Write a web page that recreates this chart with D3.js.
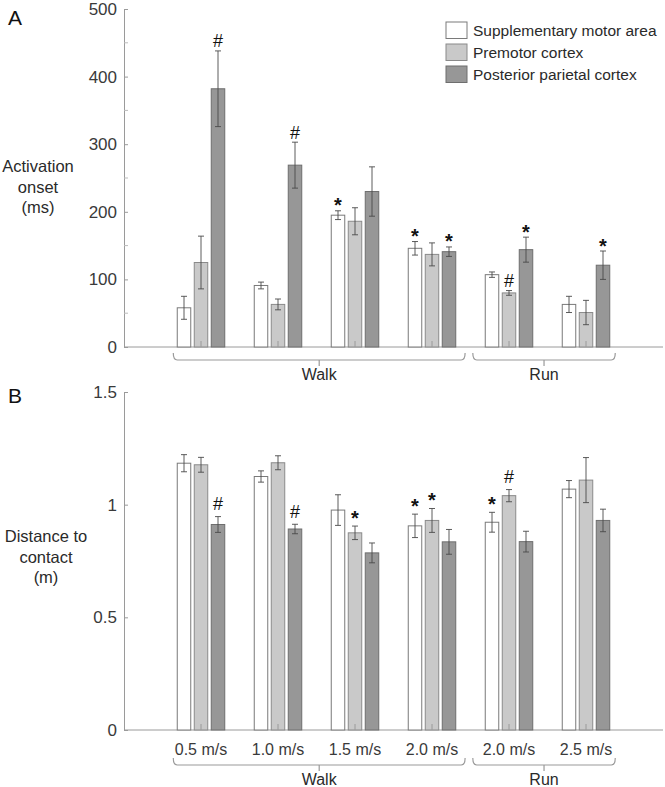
<!DOCTYPE html>
<html>
<head>
<meta charset="utf-8">
<script src="https://cdn.jsdelivr.net/npm/d3@7"></script>
<style>
  body { margin: 0; background: #fff; }
  svg text { font-family: "Liberation Sans", Arial, sans-serif; }
</style>
</head>
<body>
<div class="grafico"></div>
<script>
/* Datos */
const speeds = ['0.5 m/s', '1.0 m/s', '1.5 m/s', '2.0 m/s', '2.0 m/s', '2.5 m/s'];
const series = ['Supplementary motor area', 'Premotor cortex', 'Posterior parietal cortex'];
const gaits = ['Walk', 'Run'];

/* Panel A: activation onset (ms) */
const onsetSMA = [58, 91, 195, 146, 107, 63];
const onsetSMAerr = [17, 5, 6.5, 10, 4, 12];
const onsetPM = [125, 63, 186, 137, 80, 51];
const onsetPMerr = [39, 8, 20, 17, 3.5, 18];
const onsetPPC = [382, 269, 230, 141, 144, 121];
const onsetPPCerr = [56, 34, 36.5, 7, 18.5, 21];
const onsetMarks = [
  ['', '', '*', '*', '', ''],
  ['', '', '', '', '#', ''],
  ['#', '#', '', '*', '*', '*']
];

/* Panel B: distance to contact (m) */
const distSMA = [1.184, 1.125, 0.976, 0.906, 0.922, 1.069];
const distSMAerr = [0.038, 0.025, 0.068, 0.052, 0.044, 0.038];
const distPM = [1.177, 1.186, 0.875, 0.930, 1.040, 1.109];
const distPMerr = [0.033, 0.031, 0.030, 0.053, 0.027, 0.100];
const distPPC = [0.912, 0.892, 0.786, 0.835, 0.836, 0.930];
const distPPCerr = [0.035, 0.021, 0.044, 0.055, 0.046, 0.050];
const distMarks = [
  ['', '', '', '*', '*', ''],
  ['', '', '*', '*', '#', ''],
  ['#', '#', '', '', '', '']
];

const yTicksA = [0, 100, 200, 300, 400, 500];
const yMinorA = [50, 150, 250, 350, 450];
const yTicksB = [0, 0.5, 1, 1.5];

/* Tamaño y estilos */
const W = 665, H = 787;
const colors = ['#ffffff', '#c9c9c9', '#979797'];
const strokes = ['#7a7a7a', '#8a8a8a', '#6e6e6e'];
const axisColor = '#9a9a9a';
const textColor = '#2a2a2a';
const barW = 13.5, barOff = 17;

/* Escala x común: grupos en 1..6 */
const x = d3.scaleLinear().domain([0, speeds.length + 1]).range([124, 663]);

/* Llaves Walk / Run (en unidades de x) */
const brackets = [
  { name: gaits[0], from: 0.64, to: 4.43 },
  { name: gaits[1], from: 4.53, to: 6.38 }
];

const svg = d3.select('.grafico')
  .append('svg')
  .attr('width', W)
  .attr('height', H);

const drawPanel = (opt) => {
  const y = d3.scaleLinear().domain(opt.domain).range(opt.range);
  const g = svg.append('g');
  const y0 = y(0);

  /* Eje y */
  const axis = d3.axisLeft(y)
    .tickValues(opt.ticks)
    .tickFormat(d => String(d))
    .tickSizeInner(-4)
    .tickSizeOuter(0)
    .tickPadding(7);
  const ax = g.append('g')
    .attr('transform', `translate(${x(0)},0)`)
    .call(axis);
  ax.select('.domain').attr('stroke', axisColor);
  ax.selectAll('.tick line').attr('stroke', axisColor);
  ax.selectAll('.tick text')
    .attr('fill', '#3a3a3a')
    .style('font-size', '17px');

  if (opt.minor) {
    g.selectAll('.minor')
      .data(opt.minor)
      .join('line')
      .attr('x1', x(0)).attr('x2', x(0) + 4)
      .attr('y1', d => y(d)).attr('y2', d => y(d))
      .attr('stroke', '#bbbbbb');
  }

  /* Eje x */
  g.append('line')
    .attr('x1', x(0)).attr('x2', x.range()[1])
    .attr('y1', y0).attr('y2', y0)
    .attr('stroke', axisColor);

  /* Barras */
  opt.values.forEach((vals, s) => {
    const errs = opt.errors[s];
    const cx = (d, i) => x(i + 1) + (s - 1) * barOff;
    g.selectAll(`.bar${s}`)
      .data(vals)
      .join('rect')
      .attr('x', (d, i) => cx(d, i) - barW / 2)
      .attr('y', d => y(d))
      .attr('width', barW)
      .attr('height', d => y0 - y(d))
      .attr('fill', colors[s])
      .attr('stroke', strokes[s])
      .attr('stroke-width', 1);

    const eb = g.selectAll(`.err${s}`)
      .data(vals)
      .join('g')
      .attr('stroke', '#4a4a4a')
      .attr('stroke-width', 0.9);
    eb.append('line')
      .attr('x1', cx).attr('x2', cx)
      .attr('y1', (d, i) => y(d + errs[i]))
      .attr('y2', (d, i) => y(d - errs[i]));
    [1, -1].forEach(sg => {
      eb.append('line')
        .attr('x1', (d, i) => cx(d, i) - 3)
        .attr('x2', (d, i) => cx(d, i) + 3)
        .attr('y1', (d, i) => y(d + sg * errs[i]))
        .attr('y2', (d, i) => y(d + sg * errs[i]));
    });

    /* Marcas de significancia */
    g.selectAll(`.mark${s}`)
      .data(vals)
      .join('text')
      .attr('x', cx)
      .attr('y', (d, i) => {
        const m = opt.marks[s][i];
        const top = y(d + errs[i]) - opt.markGap;
        return m === '*' ? top + 11.5 : top + 6.5;
      })
      .attr('text-anchor', 'middle')
      .attr('fill', '#111')
      .style('font-size', (d, i) => opt.marks[s][i] === '*' ? '20px' : '18px')
      .style('font-weight', (d, i) => opt.marks[s][i] === '*' ? 'bold' : 'normal')
      .text((d, i) => opt.marks[s][i]);
  });

  /* Ticks de grupo sobre el eje x */
  g.selectAll('.gtick')
    .data(speeds)
    .join('line')
    .attr('x1', (d, i) => x(i + 1)).attr('x2', (d, i) => x(i + 1))
    .attr('y1', y0).attr('y2', y0 - 6)
    .attr('stroke', axisColor);

  /* Etiquetas de velocidad */
  if (opt.showSpeeds) {
    g.selectAll('.speed')
      .data(speeds)
      .join('text')
      .attr('x', (d, i) => x(i + 1))
      .attr('y', y0 + 25)
      .attr('text-anchor', 'middle')
      .attr('fill', '#3a3a3a')
      .style('font-size', '16px')
      .text(d => d);
  }

  /* Llaves Walk / Run */
  const by = opt.bracketY;
  brackets.forEach(b => {
    const x1 = x(b.from), x2 = x(b.to), xm = (x1 + x2) / 2;
    const p = d3.path();
    p.moveTo(x1, by - 7);
    p.quadraticCurveTo(x1, by, x1 + 4, by);
    p.lineTo(x2 - 4, by);
    p.quadraticCurveTo(x2, by, x2, by - 7);
    p.moveTo(xm, by);
    p.lineTo(xm, by + 6);
    g.append('path')
      .attr('d', p.toString())
      .attr('fill', 'none')
      .attr('stroke', axisColor)
      .attr('stroke-width', 1.2);
    g.append('text')
      .attr('x', xm)
      .attr('y', by + 20)
      .attr('text-anchor', 'middle')
      .attr('fill', textColor)
      .style('font-size', '16px')
      .text(b.name);
  });

  /* Título del eje y */
  g.append('text')
    .attr('text-anchor', 'middle')
    .attr('fill', textColor)
    .style('font-size', '16.5px')
    .selectAll('tspan')
    .data(opt.label)
    .join('tspan')
    .attr('x', opt.labelX)
    .attr('y', (d, i) => opt.labelY + i * 20.5)
    .text(d => d);

  /* Letra del panel */
  g.append('text')
    .attr('x', 8)
    .attr('y', opt.letterY)
    .attr('fill', '#111')
    .style('font-size', '21px')
    .text(opt.letter);
};

drawPanel({
  letter: 'A', letterY: 25,
  domain: [0, 500], range: [347, 9],
  ticks: yTicksA, minor: yMinorA,
  values: [onsetSMA, onsetPM, onsetPPC],
  errors: [onsetSMAerr, onsetPMerr, onsetPPCerr],
  marks: onsetMarks, markGap: 10,
  showSpeeds: false, bracketY: 360,
  label: ['Activation', 'onset', '(ms)'], labelX: 38, labelY: 172
});

drawPanel({
  letter: 'B', letterY: 403,
  domain: [0, 1.5], range: [730, 392],
  ticks: yTicksB, minor: null,
  values: [distSMA, distPM, distPPC],
  errors: [distSMAerr, distPMerr, distPPCerr],
  marks: distMarks, markGap: 13,
  showSpeeds: true, bracketY: 765,
  label: ['Distance to', 'contact', '(m)'], labelX: 46, labelY: 542
});

/* Leyenda */
const legend = svg.append('g').attr('transform', 'translate(446,22)');
const li = legend.selectAll('g')
  .data(series)
  .join('g')
  .attr('transform', (d, i) => `translate(0,${i * 22})`);
li.append('rect')
  .attr('width', 21)
  .attr('height', 16.5)
  .attr('fill', (d, i) => colors[i])
  .attr('stroke', (d, i) => strokes[i]);
li.append('text')
  .attr('x', 27)
  .attr('y', 13.5)
  .attr('fill', textColor)
  .style('font-size', '15.5px')
  .text(d => d);
</script>
</body>
</html>
